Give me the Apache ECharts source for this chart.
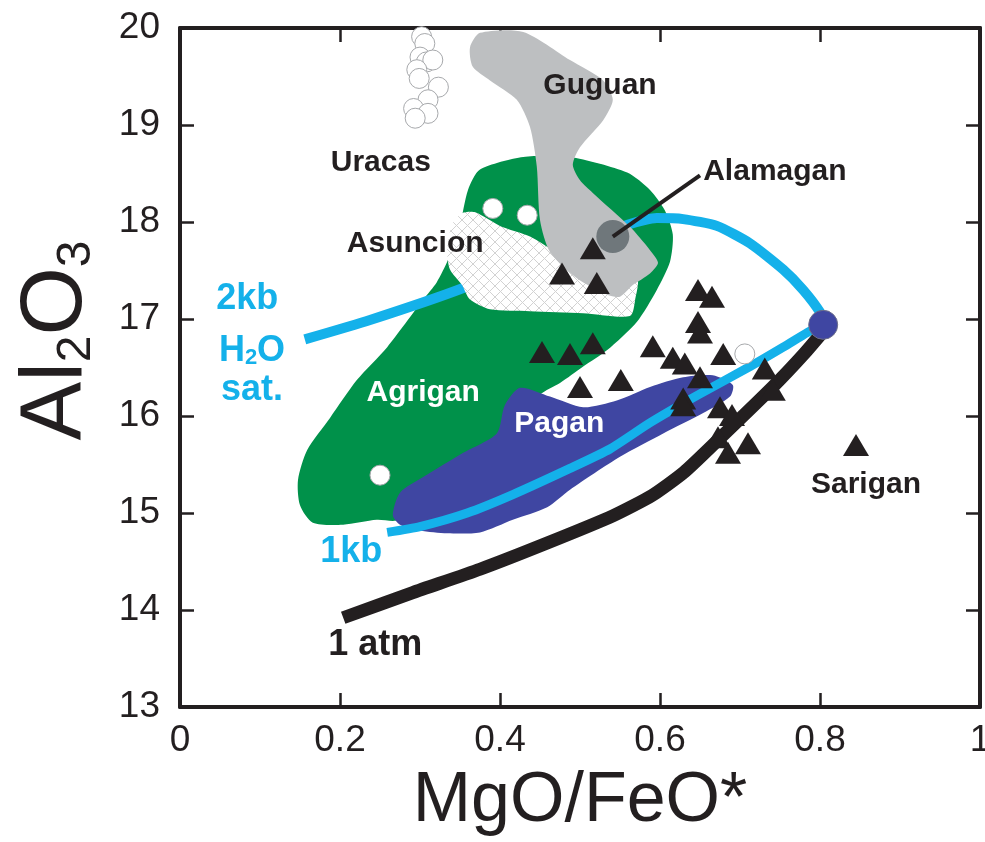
<!DOCTYPE html>
<html><head><meta charset="utf-8">
<script src="https://cdn.jsdelivr.net/npm/echarts/dist/echarts.min.js"></script>
<style>html,body{margin:0;padding:0;background:#fff}#c{width:985px;height:842px}</style>
</head><body><div id="c"></div>
<script>
// ---------- data ----------
const xTickLabels = ['0', '0.2', '0.4', '0.6', '0.8', '1'];
const yTickLabels = ['13', '14', '15', '16', '17', '18', '19', '20'];

// field outlines (MgO/FeO*, Al2O3)
const agriganRegion = [
  [0.150,15.08],[0.1475,15.34],[0.159,15.65],[0.1875,15.98],[0.221,16.37],[0.259,16.71],
  [0.304,17.20],[0.321,17.38],[0.335,17.61],[0.350,17.97],[0.360,18.33],[0.375,18.54],
  [0.429,18.67],[0.4875,18.67],[0.559,18.51],[0.5875,18.33],[0.606,18.12],[0.616,17.87],
  [0.6125,17.59],[0.596,17.30],[0.571,16.97],[0.534,16.68],[0.504,16.51],[0.475,16.34],
  [0.45,16.22],[0.425,15.96],[0.375,15.55],[0.325,15.24],[0.2875,14.98],[0.269,14.92],
  [0.246,14.93],[0.204,14.88],[0.166,14.90]
];
const asuncionRegion = [
  [0.3525,17.35],[0.3375,17.51],[0.334,17.71],[0.34,17.97],[0.3525,18.09],[0.369,18.10],
  [0.40,17.96],[0.4375,17.85],[0.475,17.66],[0.525,17.40],[0.571,17.42],[0.569,17.20],
  [0.5625,17.03],[0.504,17.06],[0.4375,17.08],[0.3875,17.10],[0.3625,17.20]
];
const guguanRegion = [
  [0.3625,19.80],[0.375,19.95],[0.429,19.96],[0.4875,19.67],[0.529,19.46],[0.541,19.26],
  [0.529,19.05],[0.50,18.77],[0.491,18.59],[0.50,18.43],[0.516,18.30],[0.5625,17.95],
  [0.5875,17.71],[0.5975,17.58],[0.5875,17.47],[0.566,17.35],[0.55,17.23],[0.534,17.25],
  [0.496,17.42],[0.4625,17.69],[0.45,18.02],[0.446,18.57],[0.4375,18.98],[0.421,19.26],
  [0.3875,19.46],[0.366,19.60]
];
const paganRegion = [
  [0.266,14.98],[0.275,15.21],[0.304,15.37],[0.354,15.62],[0.396,15.82],[0.406,16.11],
  [0.425,16.29],[0.4625,16.20],[0.504,16.09],[0.546,16.16],[0.5875,16.30],[0.629,16.40],
  [0.666,16.42],[0.691,16.32],[0.6875,16.20],[0.654,16.03],[0.604,15.82],[0.55,15.58],
  [0.4875,15.24],[0.459,15.06],[0.416,14.93],[0.375,14.80],[0.334,14.79],[0.30,14.82],
  [0.275,14.88]
];

// liquid lines of descent
const kb2Curve = [
  [0.156,16.79],[0.2375,16.99],[0.354,17.32],[0.45,17.66],[0.525,17.86],[0.5625,17.98],
  [0.596,18.04],[0.629,18.03],[0.671,17.96],[0.7125,17.78],[0.754,17.51],[0.779,17.30],
  [0.80,17.07],[0.804,16.96]
];
const kb1Curve = [
  [0.259,14.80],[0.30,14.86],[0.359,15.00],[0.416,15.19],[0.4875,15.46],[0.5375,15.66],
  [0.5875,15.93],[0.646,16.21],[0.7125,16.51],[0.754,16.71],[0.784,16.86],[0.80,16.93]
];
const atm1Curve = [
  [0.204,13.92],[0.291,14.18],[0.375,14.42],[0.459,14.69],[0.541,14.97],[0.59,15.18],
  [0.63,15.42],[0.671,15.74],[0.741,16.30],[0.78,16.64],[0.809,16.92]
];

// samples
const trianglePoints = [
  [0.516,17.73],[0.4775,17.47],[0.521,17.37],[0.6475,17.30],[0.665,17.23],[0.6475,16.97],
  [0.65,16.86],[0.591,16.72],[0.4525,16.66],[0.4875,16.64],[0.516,16.75],[0.616,16.60],
  [0.631,16.54],[0.679,16.64],[0.65,16.40],[0.50,16.30],[0.551,16.37],[0.629,16.18],
  [0.629,16.11],[0.731,16.49],[0.741,16.27],[0.675,16.09],[0.69,16.01],[0.6725,15.78],
  [0.685,15.62],[0.71,15.72],[0.845,15.70]
];
const openCirclePoints = [
  [0.302,19.91],[0.306,19.84],[0.300,19.70],[0.308,19.65],[0.316,19.67],[0.296,19.57],
  [0.299,19.48],[0.323,19.39],[0.310,19.26],[0.292,19.17],[0.310,19.12],[0.294,19.07],
  [0.391,18.14],[0.434,18.07],[0.25,15.39],[0.706,16.64]
];
const alamaganPoint = [[0.541,17.85]];
const endPoint = [[0.804,16.94]];
const alamaganLeader = [[0.541,17.85],[0.65,18.48]];

// annotation texts and anchor values
const labelTexts = ['Guguan','Uracas','Alamagan','Asuncion','2kb','H2O','sat.','Agrigan','Pagan','1kb','1 atm','Sarigan'];
const labelX = [0.525, 0.251, 0.654, 0.294, 0.084, 0.09, 0.09, 0.304, 0.474, 0.214, 0.244, 0.8575];
const labelY = [19.40, 18.61, 18.52, 17.78, 17.21, 16.67, 16.27, 16.24, 15.92, 14.60, 13.64, 15.29];

// ---------- styles ----------
const FONT = '"Liberation Sans", Arial, Helvetica, sans-serif';
const INK = '#231f20';
const CYAN = '#14b1ea';
const GREEN = '#00914a';
const BLUE = '#3f46a2';
const GRAY = '#bdbfc1';
const labelKind = {
  'Guguan':'dark','Uracas':'dark','Alamagan':'dark','Asuncion':'dark','Sarigan':'dark',
  'Agrigan':'white','Pagan':'white','2kb':'cyan','H2O':'cyan','sat.':'cyan','1kb':'cyan','1 atm':'big'
};
const kindStyle = {
  dark: {color: INK, fontSize: 30},
  white: {color: '#ffffff', fontSize: 30},
  cyan: {color: CYAN, fontSize: 36},
  big: {color: INK, fontSize: 36}
};

// hatch pattern for Asuncion
const hatch = document.createElement('canvas');
hatch.width = 11; hatch.height = 11;
(function(){
  const g = hatch.getContext('2d');
  g.fillStyle = '#ffffff'; g.fillRect(0,0,11,11);
  g.strokeStyle = '#d2d2d2'; g.lineWidth = 1;
  g.beginPath(); g.moveTo(0,0); g.lineTo(11,11); g.moveTo(11,0); g.lineTo(0,11); g.stroke();
})();

function regionSeries(name, pts, fill, z) {
  return {
    type: 'custom', name: name, z: z, silent: true, clip: false,
    data: [pts[0]],
    renderItem: function (params, api) {
      return {
        type: 'polygon',
        shape: { points: pts.map(function (p) { return api.coord(p); }), smooth: 0.25 },
        style: { fill: fill, stroke: null, opacity: 1 }
      };
    }
  };
}
function curveSeries(name, pts, color, width, z) {
  return {
    type: 'line', name: name, z: z, data: pts, showSymbol: false, smooth: 0.2,
    silent: true, lineStyle: { color: color, width: width, cap: 'butt', opacity: 1 }
  };
}

const labelData = labelTexts.map(function (t, i) {
  const st = kindStyle[labelKind[t]];
  const item = {
    name: t, value: [labelX[i], labelY[i]],
    label: {
      show: true, position: t === 'Alamagan' ? 'right' : 'inside', distance: 0,
      color: st.color, fontSize: st.fontSize, fontWeight: 'bold', fontFamily: FONT, opacity: 1,
      formatter: t === 'H2O' ? '{m|H}{s|2}{m|O}' : '{b}'
    }
  };
  if (t === 'H2O') {
    item.label.rich = {
      m: {fontSize: 36, lineHeight: 36, padding: [0,0,8,0], verticalAlign: 'top', color: CYAN, fontWeight: 'bold', fontFamily: FONT},
      s: {fontSize: 22, lineHeight: 22, verticalAlign: 'bottom', color: CYAN, fontWeight: 'bold', fontFamily: FONT}
    };
  }
  return item;
});

const axisCommon = {
  axisLine: { show: true, onZero: false, lineStyle: { color: INK, width: 4 } },
  axisTick: { show: true, inside: true, length: 14, lineStyle: { color: INK, width: 2.5 } },
  splitLine: { show: false }
};

const option = {
  animation: false,
  backgroundColor: '#ffffff',
  grid: { left: 180, right: 5, top: 28, bottom: 135, containLabel: false, outerBoundsMode: 'none' },
  xAxis: [
    Object.assign({
      type: 'value', min: 0, max: 1, interval: 0.2, position: 'bottom',
      name: 'MgO/FeO*', nameLocation: 'middle', nameGap: 60, nameMoveOverlap: false,
      nameTextStyle: { fontSize: 70, color: INK, fontFamily: FONT },
      axisLabel: { fontSize: 37, color: INK, margin: 15, fontFamily: FONT,
        formatter: function (v) { return xTickLabels[Math.round(v / 0.2)]; } }
    }, axisCommon),
    Object.assign({
      type: 'value', min: 0, max: 1, interval: 0.2, position: 'top',
      axisLabel: { show: false }
    }, axisCommon)
  ],
  yAxis: [
    Object.assign({
      type: 'value', min: 13, max: 20, interval: 1, position: 'left',
      name: '{a|Al}{s|2}{a|O}{s|3}', nameLocation: 'middle', nameRotate: 90, nameGap: 79,
      nameMoveOverlap: false,
      nameTextStyle: {
        padding: [0, 0, 0, 54],
        rich: {
          a: { fontSize: 88, lineHeight: 88, padding: [0,0,6,0], verticalAlign: 'top', color: INK, fontFamily: FONT },
          s: { fontSize: 48, lineHeight: 48, verticalAlign: 'bottom', color: INK, fontFamily: FONT }
        }
      },
      axisLabel: { fontSize: 37, color: INK, margin: 20, fontFamily: FONT,
        formatter: function (v) { return yTickLabels[Math.round(v - 13)]; } }
    }, axisCommon),
    Object.assign({
      type: 'value', min: 13, max: 20, interval: 1, position: 'right',
      axisLabel: { show: false }
    }, axisCommon)
  ],
  series: [
    regionSeries('Agrigan', agriganRegion, GREEN, 2),
    curveSeries('2kb H2O sat.', kb2Curve, CYAN, 10, 3),
    regionSeries('Asuncion', asuncionRegion, { image: hatch, repeat: 'repeat' }, 4),
    regionSeries('Guguan', guguanRegion, GRAY, 5),
    regionSeries('Pagan', paganRegion, BLUE, 6),
    curveSeries('1kb', kb1Curve, CYAN, 9, 7),
    curveSeries('1 atm', atm1Curve, INK, 13, 7),
    {
      type: 'scatter', name: 'samples', z: 8, silent: true, data: trianglePoints,
      symbol: 'triangle', symbolSize: [26, 22], itemStyle: { color: INK, opacity: 1 }
    },
    {
      type: 'scatter', name: 'open', z: 8, silent: true, data: openCirclePoints,
      symbol: 'circle', symbolSize: 20,
      itemStyle: { color: '#ffffff', borderColor: '#a7a9ac', borderWidth: 1, opacity: 1 }
    },
    {
      type: 'scatter', name: 'Alamagan', z: 9, silent: true, data: alamaganPoint,
      symbol: 'circle', symbolSize: 33, itemStyle: { color: '#6f777b', opacity: 1 }
    },
    {
      type: 'line', name: 'leader', z: 10, silent: true, data: alamaganLeader, showSymbol: false,
      lineStyle: { color: INK, width: 4, opacity: 1 }
    },
    {
      type: 'scatter', name: 'parent', z: 9, silent: true, data: endPoint,
      symbol: 'circle', symbolSize: 29, itemStyle: { color: BLUE, borderColor: '#6d6f8a', borderWidth: 1, opacity: 1 }
    },
    {
      type: 'scatter', name: 'labels', z: 11, silent: true, data: labelData,
      symbolSize: 0, itemStyle: { color: 'rgba(0,0,0,0)', opacity: 1 }
    }
  ]
};

const chart = echarts.init(document.getElementById('c'), null, { renderer: 'canvas' });
chart.setOption(option);
</script></body></html>
